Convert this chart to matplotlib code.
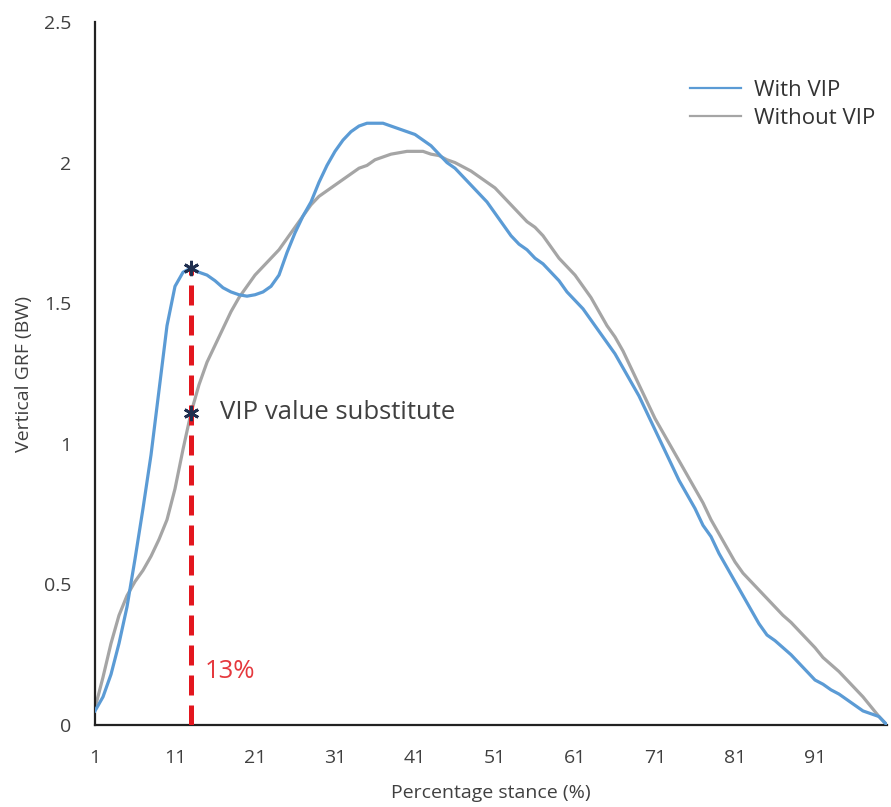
import numpy as np
import matplotlib
matplotlib.use("Agg")
import matplotlib.pyplot as plt

""" ------------------- Data ------------------- """

# Percentage of stance phase (1 .. 100 %)
stance = list(range(1, 101))

# Vertical ground reaction force (body weight), with the vertical impact peak
with_vip = [
  0.05, 0.10, 0.18, 0.29, 0.42, 0.59, 0.77, 0.96, 1.19, 1.42,
  1.56, 1.61, 1.625, 1.61, 1.60, 1.58, 1.555, 1.54, 1.53, 1.525,
  1.53, 1.54, 1.56, 1.60, 1.68, 1.75, 1.81, 1.86, 1.93, 1.99,
  2.04, 2.08, 2.11, 2.13, 2.14, 2.14, 2.14, 2.13, 2.12, 2.11,
  2.10, 2.08, 2.06, 2.03, 2.00, 1.98, 1.95, 1.92, 1.89, 1.86,
  1.82, 1.78, 1.74, 1.71, 1.69, 1.66, 1.64, 1.61, 1.58, 1.54,
  1.51, 1.48, 1.44, 1.40, 1.36, 1.32, 1.27, 1.22, 1.17, 1.11,
  1.05, 0.99, 0.93, 0.87, 0.82, 0.77, 0.71, 0.67, 0.61, 0.56,
  0.51, 0.46, 0.41, 0.36, 0.32, 0.30, 0.275, 0.25, 0.22, 0.19,
  0.16, 0.145, 0.125, 0.11, 0.09, 0.07, 0.05, 0.04, 0.03, 0.00,
]

# Same trial with the impact peak removed
without_vip = [
  0.06, 0.17, 0.29, 0.39, 0.46, 0.51, 0.55, 0.60, 0.66, 0.73,
  0.84, 0.98, 1.11, 1.21, 1.29, 1.35, 1.41, 1.47, 1.52, 1.56,
  1.60, 1.63, 1.66, 1.69, 1.73, 1.77, 1.81, 1.85, 1.88, 1.90,
  1.92, 1.94, 1.96, 1.98, 1.99, 2.01, 2.02, 2.03, 2.035, 2.04,
  2.04, 2.04, 2.03, 2.025, 2.01, 2.00, 1.985, 1.97, 1.95, 1.93,
  1.91, 1.88, 1.85, 1.82, 1.79, 1.77, 1.74, 1.70, 1.66, 1.63,
  1.60, 1.56, 1.52, 1.47, 1.42, 1.38, 1.33, 1.27, 1.21, 1.15,
  1.09, 1.04, 0.99, 0.94, 0.89, 0.84, 0.79, 0.73, 0.68, 0.63,
  0.58, 0.54, 0.51, 0.48, 0.45, 0.42, 0.39, 0.365, 0.335, 0.305,
  0.275, 0.24, 0.215, 0.19, 0.16, 0.13, 0.10, 0.065, 0.03, 0.00,
]

series_labels = ['With VIP', 'Without VIP']
vip_stance = 13          # stance (%) of the impact peak
x_ticks = list(range(1, 100, 10))
y_ticks = [0, 0.5, 1, 1.5, 2, 2.5]
y_tick_labels = ['0', '0.5', '1', '1.5', '2', '2.5']

""" ------------------- Plot ------------------- """

plt.rcParams['font.family'] = ['Open Sans', 'DejaVu Sans']
text_grey = '#404040'

fig = plt.figure(figsize=(8.91, 8.07), dpi=100)
ax = fig.add_axes([95/891, 1 - 725/807, 792/891, 703/807])

ax.plot(stance, with_vip, color='#5B9BD5', lw=2.3, label=series_labels[0], zorder=3)
ax.plot(stance, without_vip, color='#A5A5A5', lw=2.3, label=series_labels[1], zorder=2)

# dashed marker of the impact peak position
i_vip = stance.index(vip_stance)
ax.vlines(vip_stance, 0, with_vip[i_vip], colors='#E3161E', lw=3.6,
          linestyles=(0, (4, 2)), zorder=4)
ax.plot([vip_stance, vip_stance], [with_vip[i_vip], without_vip[i_vip]],
        ls='none', marker=(6, 2, 0), ms=11, mew=2, color='#1F2F4F', zorder=5)

ax.annotate('VIP value substitute', xy=(vip_stance, without_vip[i_vip]),
            xytext=(21, 0), textcoords='offset points', va='center',
            fontsize=18.5, color=text_grey)
ax.annotate(f'{vip_stance}%', xy=(vip_stance, 0.19), xytext=(10, 0),
            textcoords='offset points', va='center', fontsize=18.5,
            color='#E5393E')

ax.set_xlim(1, 100)
ax.set_ylim(0, 2.5)
ax.set_xticks(x_ticks)
ax.set_yticks(y_ticks, y_tick_labels)
ax.tick_params(axis='both', length=0, labelsize=14, labelcolor=text_grey)
ax.tick_params(axis='x', pad=17)
ax.tick_params(axis='y', pad=17)

for side in ['top', 'right']:
  ax.spines[side].set_visible(False)
for side in ['left', 'bottom']:
  ax.spines[side].set_linewidth(1.6)
  ax.spines[side].set_color('#222222')

ax.set_xlabel('Percentage stance (%)', fontsize=14, color=text_grey, va='center')
ax.xaxis.set_label_coords(0.5, (725 - 793) / 703)
ax.set_ylabel('Vertical GRF (BW)', fontsize=14, color=text_grey, va='center')
ax.yaxis.set_label_coords((24 - 95) / 792, 0.5)

leg = ax.legend(loc='upper left', bbox_to_anchor=(690/891, 1 - 80/807),
                bbox_transform=fig.transFigure, frameon=False, fontsize=16,
                handlelength=2.3, handletextpad=0.6, labelspacing=0.3,
                borderpad=0, borderaxespad=0)
for line in leg.get_lines():
  line.set_linewidth(1.6)
for txt in leg.get_texts():
  txt.set_color('#333333')

fig.savefig('out.png', dpi=100, facecolor='white')
